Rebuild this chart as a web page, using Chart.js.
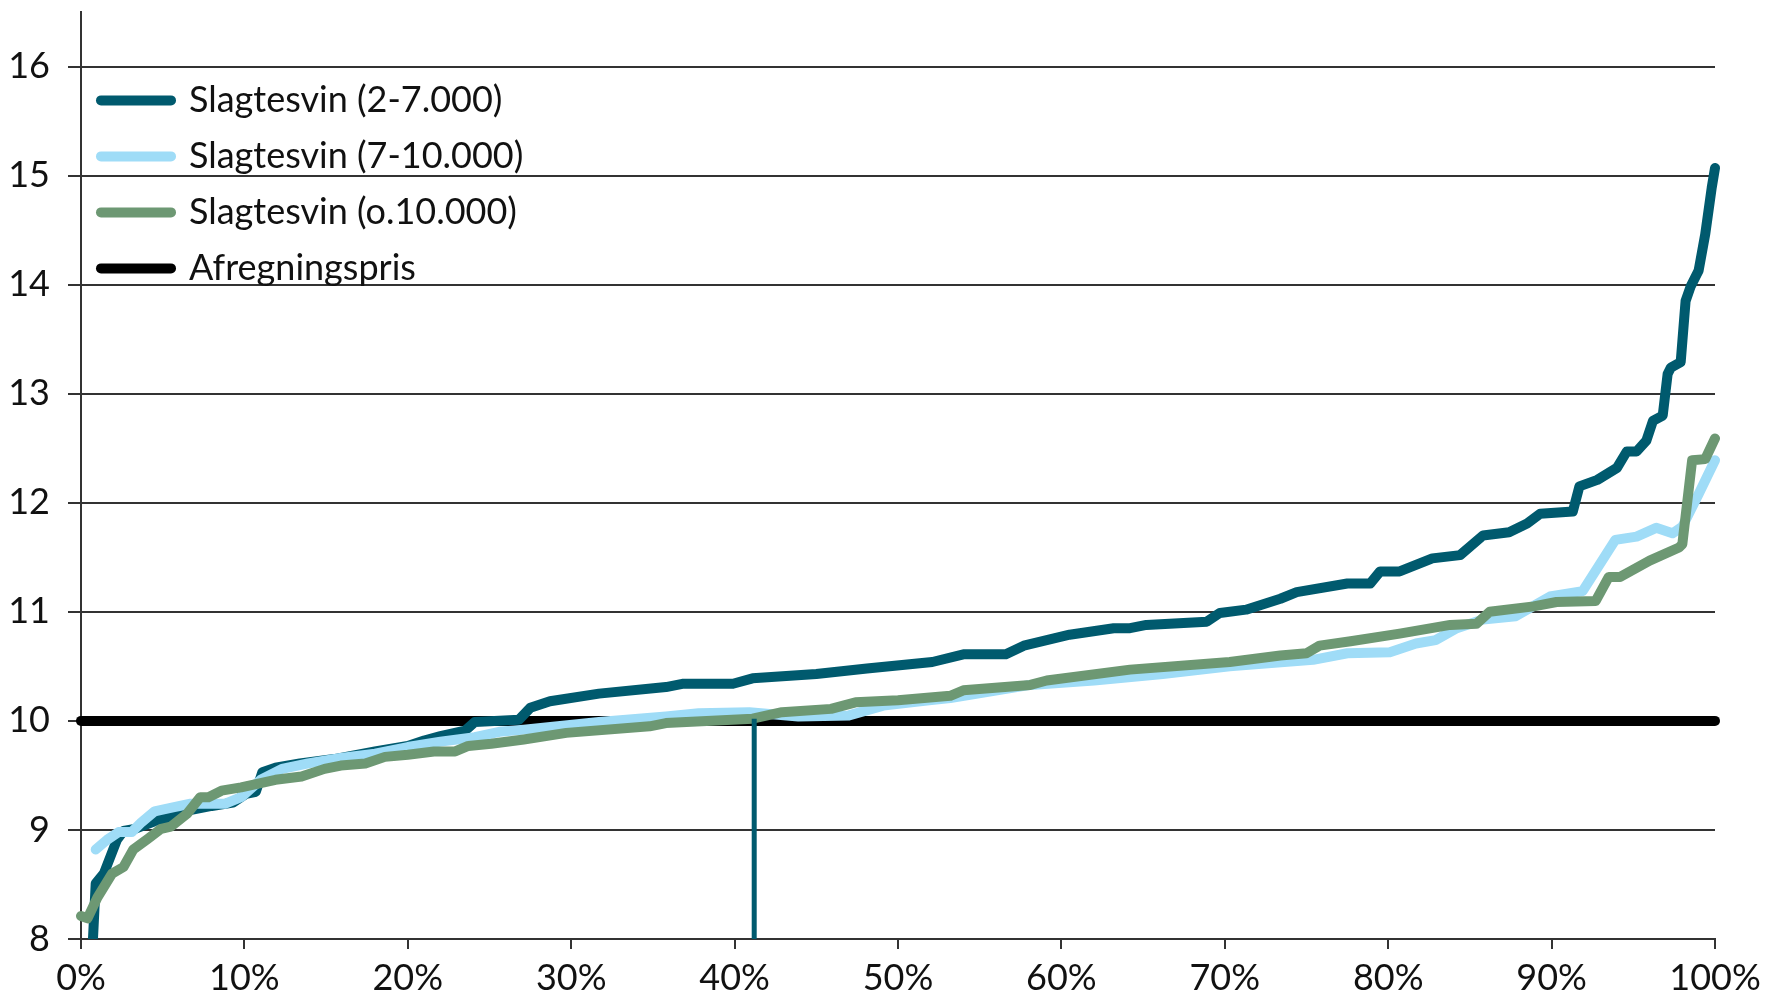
<!DOCTYPE html>
<html>
<head>
<meta charset="utf-8">
<script src="https://cdn.jsdelivr.net/npm/chart.js@4.4.1/dist/chart.umd.min.js"></script>
<style>
  html, body { margin: 0; padding: 0; background: #fff; }
  #wrap { width: 1765px; height: 998px; }
</style>
</head>
<body>
<div id="wrap"><canvas id="chart"></canvas></div>
<script>
// share of herds (x, %) against price (y, kr/kg)
const tealPct = [0.7, 0.9, 1.4, 2.2, 2.6, 3.3, 4.5, 5.5, 6.6, 8.0, 9.3, 10.1, 10.7, 11.1, 11.9, 13.4, 15.5, 18.0, 20.0, 21.0, 22.0, 23.5, 24.1, 26.8, 27.5, 28.7, 31.7, 35.8, 36.8, 39.9, 41.1, 45.0, 48.1, 52.1, 54.0, 56.6, 57.7, 60.5, 63.2, 64.2, 65.2, 68.9, 69.7, 71.3, 73.4, 74.4, 77.5, 78.9, 79.5, 80.7, 82.7, 84.4, 85.8, 87.4, 88.5, 89.3, 91.3, 91.7, 92.8, 94.0, 94.6, 95.2, 95.8, 96.2, 96.8, 97.1, 97.3, 97.9, 98.2, 98.5, 99.0, 99.4, 99.8, 100];
const tealPris = [7.9, 8.51, 8.6, 8.91, 8.99, 9.01, 9.08, 9.12, 9.18, 9.22, 9.25, 9.33, 9.35, 9.53, 9.57, 9.61, 9.65, 9.72, 9.77, 9.82, 9.86, 9.91, 9.99, 10.01, 10.12, 10.18, 10.25, 10.31, 10.34, 10.34, 10.39, 10.43, 10.48, 10.54, 10.61, 10.61, 10.69, 10.79, 10.85, 10.85, 10.88, 10.91, 10.99, 11.02, 11.12, 11.18, 11.26, 11.26, 11.37, 11.37, 11.49, 11.52, 11.70, 11.73, 11.81, 11.90, 11.92, 12.15, 12.21, 12.32, 12.47, 12.47, 12.57, 12.75, 12.8, 13.18, 13.24, 13.29, 13.85, 13.98, 14.13, 14.46, 14.89, 15.07];

const bluePct = [0.9, 1.6, 2.3, 3.1, 3.7, 4.5, 5.7, 6.7, 8.8, 9.8, 11.0, 12.3, 13.9, 15.9, 18.0, 20.0, 22.0, 24.1, 25.6, 27.1, 31.7, 35.8, 37.8, 40.9, 43.9, 47.0, 49.1, 51.9, 53.2, 58.1, 62.0, 66.2, 70.3, 75.4, 77.5, 80.1, 81.7, 82.9, 84.2, 85.8, 87.8, 89.9, 91.9, 93.9, 95.2, 96.4, 97.4, 98.0, 99.0, 100];
const bluePris = [8.82, 8.91, 8.98, 8.98, 9.07, 9.17, 9.21, 9.24, 9.24, 9.3, 9.46, 9.56, 9.61, 9.66, 9.70, 9.76, 9.81, 9.85, 9.90, 9.92, 9.99, 10.04, 10.07, 10.08, 10.04, 10.05, 10.14, 10.19, 10.21, 10.33, 10.37, 10.43, 10.5, 10.56, 10.62, 10.63, 10.71, 10.74, 10.85, 10.93, 10.96, 11.14, 11.19, 11.66, 11.69, 11.77, 11.72, 11.78, 12.08, 12.39];

const greenPct = [0, 0.4, 1.0, 1.9, 2.6, 3.2, 4.1, 4.9, 5.5, 6.5, 7.3, 7.8, 8.6, 9.8, 11.9, 13.5, 14.9, 15.9, 17.4, 18.6, 20.0, 21.6, 22.9, 23.7, 25.1, 27.1, 29.7, 34.8, 35.8, 41.1, 42.9, 45.9, 47.4, 50.0, 53.2, 54.0, 58.1, 59.1, 64.2, 70.3, 73.4, 75.0, 75.8, 77.7, 80.7, 83.8, 85.4, 86.2, 88.9, 90.3, 92.7, 93.5, 94.2, 96.0, 97.8, 98.0, 98.6, 99.4, 100];
const greenPris = [8.21, 8.19, 8.38, 8.6, 8.66, 8.82, 8.92, 9.01, 9.03, 9.15, 9.3, 9.3, 9.36, 9.39, 9.46, 9.49, 9.56, 9.59, 9.61, 9.67, 9.69, 9.72, 9.72, 9.77, 9.79, 9.83, 9.89, 9.95, 9.98, 10.02, 10.08, 10.11, 10.17, 10.19, 10.23, 10.28, 10.33, 10.37, 10.47, 10.54, 10.6, 10.62, 10.69, 10.73, 10.80, 10.88, 10.89, 11.0, 11.05, 11.09, 11.1, 11.32, 11.32, 11.47, 11.59, 11.62, 12.39, 12.4, 12.59];

const afregningPct = [0, 100];
const afregningPris = [10, 10];

// vertical marker where the green curve crosses the settlement price
const markerPct = [41.2, 41.2];
const markerPris = [8, 10.02];

const xTickLabels = ['0%', '10%', '20%', '30%', '40%', '50%', '60%', '70%', '80%', '90%', '100%'];
const yTickLabels = ['8', '9', '10', '11', '12', '13', '14', '15', '16'];

const toPoints = (xs, ys) => xs.map((x, i) => ({ x: x, y: ys[i] }));

const line = (label, xs, ys, color, order, extra) => Object.assign({
  label: label,
  data: toPoints(xs, ys),
  borderColor: color,
  backgroundColor: color,
  borderWidth: 10,
  pointRadius: 0,
  pointHoverRadius: 0,
  pointBorderWidth: 10,
  borderCapStyle: 'round',
  borderJoinStyle: 'round',
  tension: 0,
  fill: false,
  order: order,
  clip: { left: 6, right: 6, top: 6, bottom: 0 }
}, extra || {});

Chart.defaults.font.family = 'Lato';

new Chart(document.getElementById('chart').getContext('2d'), {
  type: 'line',
  data: {
    datasets: [
      line('Slagtesvin (2-7.000)', tealPct, tealPris, '#005a6e', 3),
      line('Slagtesvin (7-10.000)', bluePct, bluePris, '#9fdcf7', 2),
      line('Slagtesvin (o.10.000)', greenPct, greenPris, '#6d9873', 1),
      line('Afregningspris', afregningPct, afregningPris, '#000000', 4),
      line('', markerPct, markerPris, '#005a6e', 0, { borderWidth: 5, borderCapStyle: 'butt' })
    ]
  },
  options: {
    responsive: true,
    maintainAspectRatio: false,
    animation: false,
    layout: { padding: { left: 0, right: 50, top: 12, bottom: 0 } },
    plugins: {
      tooltip: { enabled: false },
      legend: {
        position: 'chartArea',
        align: 'start',
        title: { display: true, text: '', padding: { top: 48, bottom: 0 } },
        labels: {
          usePointStyle: true,
          pointStyle: 'line',
          pointStyleWidth: 70,
          padding: 20,
          color: '#111',
          font: { size: 36 },
          filter: item => item.text !== '',
          sort: (a, b) => a.datasetIndex - b.datasetIndex,
          generateLabels: chart => Chart.defaults.plugins.legend.labels.generateLabels(chart)
            .map(item => Object.assign(item, { lineCap: 'round', lineWidth: 10 }))
        }
      }
    },
    scales: {
      x: {
        type: 'linear',
        min: 0,
        max: 100,
        border: { display: true, color: '#333', width: 2 },
        grid: { drawOnChartArea: false, drawTicks: true, tickLength: 10, color: '#333', lineWidth: 2 },
        ticks: {
          stepSize: 10,
          autoSkip: false,
          maxRotation: 0,
          padding: 8,
          color: '#111',
          font: { size: 36 },
          callback: (v, i) => xTickLabels[i]
        },
        afterFit: scale => { scale.height = 59; scale.paddingLeft = 0; scale.paddingRight = 0; }
      },
      y: {
        min: 8,
        max: 16.5,
        border: { display: true, color: '#333', width: 2 },
        grid: { color: '#333', lineWidth: 2, tickLength: 13 },
        ticks: {
          stepSize: 1,
          includeBounds: false,
          padding: 18,
          color: '#111',
          font: { size: 36 },
          callback: (v, i) => yTickLabels[i]
        },
        afterFit: scale => { scale.width = 81; scale.paddingTop = 0; scale.paddingBottom = 0; }
      }
    }
  }
});
</script>
</body>
</html>
